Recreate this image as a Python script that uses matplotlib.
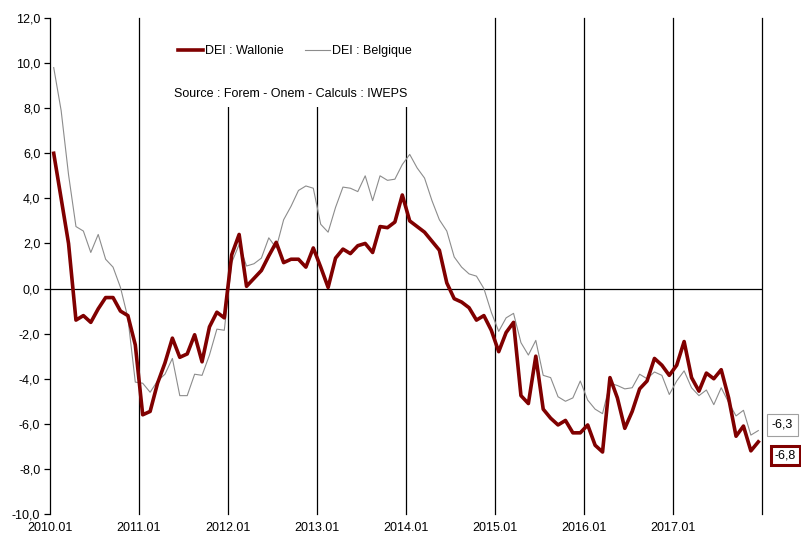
import numpy as np
import matplotlib
matplotlib.use("Agg")
import matplotlib.pyplot as plt
from matplotlib.patches import Rectangle

plt.rcParams['font.family'] = ['Liberation Sans', 'DejaVu Sans']

# DEI mensuel, 2010.01 -> 2017.12
wallonie = [
    6.0, 4.0, 2.0, -1.4, -1.2, -1.5, -0.9, -0.4, -0.4, -1.0, -1.2, -2.5,
    -5.6, -5.45, -4.2, -3.3, -2.2, -3.05, -2.9, -2.05, -3.25, -1.7, -1.05, -1.3,
    1.5, 2.4, 0.1, 0.45, 0.8, 1.45, 2.05, 1.15, 1.3, 1.3, 0.95, 1.8,
    0.95, 0.05, 1.35, 1.75, 1.55, 1.9, 2.0, 1.6, 2.75, 2.7, 2.95, 4.15,
    3.0, 2.75, 2.5, 2.1, 1.7, 0.25, -0.45, -0.6, -0.85, -1.4, -1.2, -1.85,
    -2.8, -1.95, -1.5, -4.75, -5.1, -3.0, -5.35, -5.75, -6.05, -5.85, -6.4, -6.4,
    -6.05, -6.95, -7.25, -3.95, -4.85, -6.2, -5.45, -4.45, -4.1, -3.1, -3.4, -3.85,
    -3.4, -2.35, -3.95, -4.55, -3.75, -4.0, -3.6, -4.85, -6.55, -6.1, -7.2, -6.8,
]
belgique = [
    9.8, 7.9, 5.05, 2.75, 2.55, 1.6, 2.4, 1.3, 0.95, 0.05, -1.3, -4.15,
    -4.2, -4.6, -4.1, -3.8, -3.1, -4.75, -4.75, -3.8, -3.85, -2.95, -1.8, -1.85,
    1.15, 1.95, 1.0, 1.1, 1.35, 2.25, 1.8, 3.05, 3.65, 4.35, 4.55, 4.45,
    2.85, 2.5, 3.6, 4.5, 4.45, 4.3, 5.0, 3.9, 5.0, 4.8, 4.85, 5.5,
    5.95, 5.35, 4.9, 3.9, 3.05, 2.55, 1.4, 0.95, 0.65, 0.55, 0.0, -1.05,
    -1.9, -1.3, -1.1, -2.4, -2.95, -2.3, -3.85, -3.95, -4.8, -5.0, -4.85, -4.1,
    -4.95, -5.35, -5.55, -4.2, -4.3, -4.45, -4.4, -3.8, -4.0, -3.7, -3.85, -4.7,
    -4.1, -3.65, -4.4, -4.75, -4.5, -5.15, -4.4, -5.05, -5.65, -5.4, -6.5, -6.3,
]
years = [2010, 2011, 2012, 2013, 2014, 2015, 2016, 2017]
y_ticks = [-10, -8, -6, -4, -2, 0, 2, 4, 6, 8, 10, 12]

RED = "#800000"
GREY = "#8c8c8c"

fig = plt.figure(figsize=(8.01, 5.38), dpi=100)
ax = fig.add_axes([50/801, 24/538, 712/801, 496/538])

n = len(wallonie)
x = np.arange(n) + 0.5

# lignes verticales annuelles + axe zéro
for k in range(1, len(years) + 1):
    ax.axvline(12 * k, color="black", lw=0.9, zorder=1, clip_on=False)
ax.axhline(0, color="black", lw=0.9, zorder=1)

# cadre blanc derrière la légende
ax.add_patch(Rectangle((110/712, (514-107)/496), 310/712, 1, transform=ax.transAxes,
                       facecolor="white", edgecolor="none", zorder=1.5, clip_on=False))

ax.plot(x, belgique, color=GREY, lw=0.8, label="DEI : Belgique", zorder=3)
ax.plot(x, wallonie, color=RED, lw=2.6, label="DEI : Wallonie", zorder=4)

ax.set_xlim(0, 12 * len(years))
ax.set_ylim(-10, 12)

ax.set_yticks(y_ticks)
ax.set_yticklabels([f"{v:.1f}".replace(".", ",") for v in y_ticks], fontsize=9)
ax.tick_params(axis="y", direction="out", length=4, width=0.9, pad=3)

ax.set_xticks([12 * i for i in range(len(years))])
ax.set_xticklabels([f"{y}.01" for y in years], fontsize=9)
ax.tick_params(axis="x", length=0, pad=6)

for s in ["top", "right", "bottom"]:
    ax.spines[s].set_visible(False)
ax.spines["left"].set_linewidth(0.9)

handles, labels = ax.get_legend_handles_labels()
leg = ax.legend(handles[::-1], labels[::-1], loc="center left",
                bbox_to_anchor=((178-50)/712, (514-51)/496),
                ncol=2, frameon=False, fontsize=9, borderpad=0, borderaxespad=0,
                handlelength=2.0, handletextpad=0.15, columnspacing=1.7)
leg.set_zorder(6)

ax.text((174-50)/712, (514-94)/496, "Source : Forem - Onem - Calculs : IWEPS",
        transform=ax.transAxes, fontsize=9, va="center", ha="left", zorder=6)

# étiquettes des dernières valeurs
ax.text(97.3, -6.05, f"{belgique[-1]:.1f}".replace(".", ","), fontsize=9,
        va="center", ha="left", clip_on=False,
        bbox=dict(boxstyle="square,pad=0.4", facecolor="white", edgecolor="#a0a0a0", lw=0.8))
ax.text(97.75, -7.4, f"{wallonie[-1]:.1f}".replace(".", ","), fontsize=9,
        va="center", ha="left", clip_on=False,
        bbox=dict(boxstyle="square,pad=0.3", facecolor="white", edgecolor=RED, lw=2.2))

fig.savefig("out.png", dpi=100)
